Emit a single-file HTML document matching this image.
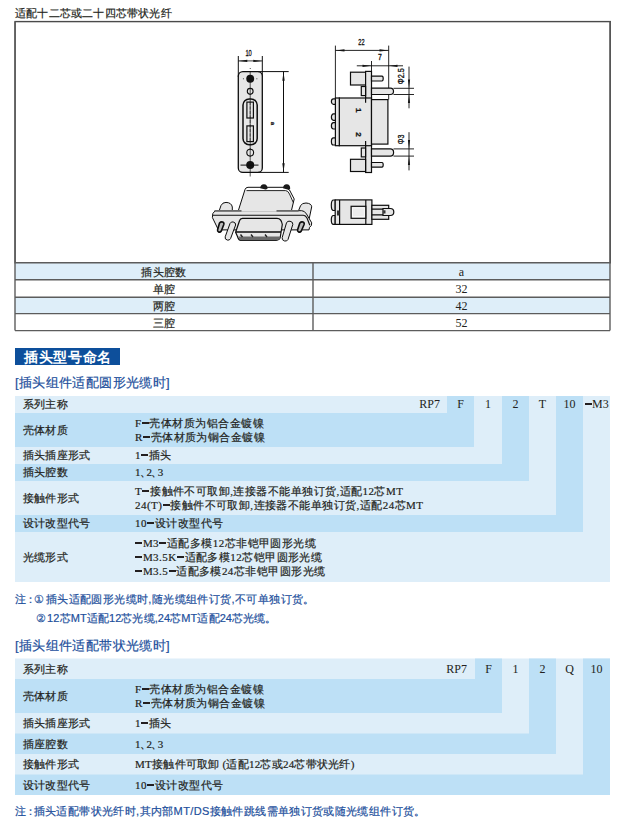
<!DOCTYPE html>
<html><head><meta charset="utf-8">
<style>
*{margin:0;padding:0;box-sizing:border-box}
html,body{width:628px;height:826px;background:#fff;overflow:hidden}
body{position:relative;font-family:"Liberation Serif",serif;color:#231f20}
.a{position:absolute;white-space:nowrap}
.t{font-size:11px;line-height:14px;letter-spacing:0.45px}
.blue b,.t b{font-weight:bold}
.dn{margin-right:-5px;margin-left:-1px}
.ds{display:inline-block;width:7px;height:1.4px;background:#231f20;vertical-align:3.2px;margin:0 0.6px 0 0.3px}
.lb{letter-spacing:0.2px}
.blue{-webkit-text-stroke:0.2px currentColor}
.t{-webkit-text-stroke:0.2px currentColor}
.n{font-size:12px;line-height:14px}
.blue{color:#1d4f9c;letter-spacing:0.37px;font-family:"Liberation Sans",sans-serif}
.c{text-align:center}
</style></head><body>
<div class="a t" style="left:15px;top:5.5px;letter-spacing:0.2px">适配十二芯或二十四芯带状光纤</div>

<svg class="a" style="left:0;top:0" width="628" height="826" viewBox="0 0 628 826">
 <!-- drawing box + table 0 -->
 <rect x="15.1" y="21.6" width="595.2" height="241.2" fill="none" stroke="#4a4a4a" stroke-width="1.4"/>
 <rect x="15" y="262.8" width="595" height="17" fill="#deeef9"/>
 <rect x="15" y="297.2" width="595" height="16.4" fill="#deeef9"/>
 <g stroke="#5c5c5c" stroke-width="1.4" fill="none">
  <line x1="15" y1="262.8" x2="610" y2="262.8"/>
  <line x1="15" y1="279.7" x2="610" y2="279.7"/>
  <line x1="15" y1="297.2" x2="610" y2="297.2"/>
  <line x1="15" y1="313.6" x2="610" y2="313.6"/>
  <line x1="15" y1="330.6" x2="610" y2="330.6"/>
  <line x1="15" y1="21.5" x2="15" y2="330.6"/>
  <line x1="610" y1="21.5" x2="610" y2="330.6"/>
  <line x1="313" y1="262.8" x2="313" y2="330.6"/>
 </g>
 <!-- ===== drawing ===== -->
 <g id="front" stroke="#0d0d0d" fill="none" stroke-linecap="butt">
  <line x1="238.3" y1="56" x2="238.3" y2="77" stroke-width="1"/>
  <line x1="262.3" y1="56" x2="262.3" y2="77" stroke-width="1"/>
  <line x1="238.3" y1="60.9" x2="262.3" y2="60.9" stroke-width="0.8"/>
  <path d="M238.5 60.9 L247.3 59.8 L247.3 62 Z M262.1 60.9 L253.3 59.8 L253.3 62 Z" fill="#151515" stroke="none"/>
  <rect x="238.3" y="71.6" width="24" height="100.8" rx="4.5" fill="#e6e6e6" stroke-width="1.3"/>
  <line x1="258" y1="71.6" x2="288.7" y2="71.6" stroke-width="1"/>
  <line x1="258" y1="172.4" x2="288.7" y2="172.4" stroke-width="1"/>
  <line x1="283.5" y1="71.6" x2="283.5" y2="172.4" stroke-width="1"/>
  <path d="M283.5 72 L282.3 80.8 L284.7 80.8 Z M283.5 172 L282.3 163.2 L284.7 163.2 Z" fill="#151515" stroke="none"/>
  <line x1="250.2" y1="71" x2="250.2" y2="176.5" stroke-width="0.7"/>
  <circle cx="250.2" cy="68.5" r="0.5" fill="#151515" stroke="none"/>
  <circle cx="243.4" cy="78.8" r="0.5" fill="#151515" stroke="none"/>
  <circle cx="256.9" cy="78.8" r="0.5" fill="#151515" stroke="none"/>
  <circle cx="250.2" cy="78.8" r="3.95" fill="#111" stroke="none"/>
  <circle cx="250.2" cy="91.3" r="2.9" fill="#e6e6e6" stroke-width="1.1"/>
  <line x1="250.2" y1="88" x2="250.2" y2="95" stroke-width="0.7"/>
  <rect x="243" y="98.9" width="14.2" height="45.8" rx="6.2" stroke-width="1.5"/>
  <rect x="246.9" y="102.1" width="6.5" height="15.9" stroke-width="1.2"/>
  <rect x="246.9" y="125.9" width="6.5" height="15.7" stroke-width="1.2"/>
  <line x1="250.2" y1="102" x2="250.2" y2="141.6" stroke-width="0.5" stroke-dasharray="3 1.5"/>
  <circle cx="250.2" cy="152.6" r="3.4" fill="#e6e6e6" stroke-width="1.1"/>
  <line x1="250.2" y1="148" x2="250.2" y2="157" stroke-width="0.7"/>
  <circle cx="250.2" cy="165.1" r="4" fill="#111" stroke="none"/>
  <line x1="240.5" y1="165.1" x2="258.5" y2="165.1" stroke-width="1"/>
 </g>
 <g id="side" stroke="#0d0d0d" fill="#e6e6e6" stroke-width="1.2">
  <g fill="none" stroke-width="0.9">
   <line x1="335.4" y1="45.6" x2="335.4" y2="98"/>
   <line x1="388.7" y1="45.6" x2="388.7" y2="99.6"/>
   <line x1="335.4" y1="50.4" x2="388.7" y2="50.4"/>
   <line x1="371.5" y1="61" x2="371.5" y2="71.4"/>
   <line x1="356.8" y1="65.8" x2="403" y2="65.8"/>
   <line x1="393.5" y1="88.3" x2="414" y2="88.3"/>
   <line x1="393.5" y1="94.5" x2="414" y2="94.5"/>
   <line x1="393.5" y1="148.9" x2="414" y2="148.9"/>
   <line x1="393.5" y1="156.1" x2="414" y2="156.1"/>
   <line x1="409" y1="66.6" x2="409" y2="108.3"/>
   <line x1="409" y1="132.2" x2="409" y2="170.4"/>
  </g>
  <path d="M335.6 50.4 L344.5 49.3 L344.5 51.5 Z M388.5 50.4 L379.5 49.3 L379.5 51.5 Z M371.3 65.8 L362.5 64.7 L362.5 66.9 Z M388.9 65.8 L397.5 64.7 L397.5 66.9 Z M409 88.1 L407.9 79.5 L410.1 79.5 Z M409 94.7 L407.9 103 L410.1 103 Z M409 148.7 L407.9 140 L410.1 140 Z M409 156.3 L407.9 165 L410.1 165 Z" fill="#151515" stroke="none"/>
  <rect x="350.5" y="72.2" width="15.1" height="12.8"/>
  <rect x="365.6" y="71.4" width="5.9" height="101.1"/>
  <path d="M371.5 76.2 H382 Q383.2 76.2 383.2 78.6 Q383.2 81 382 81 H371.5 Z"/>
  <rect x="361.3" y="86.5" width="4.3" height="9.1"/>
  <path d="M371.5 88.1 H390.5 A3 3.2 0 0 1 390.5 94.5 H371.5 Z"/>
  <rect x="339.3" y="98" width="32.2" height="47.7"/>
  <path d="M365.6 97 V102.7 M365.6 141 V146.5" fill="none"/>
  <rect x="371.5" y="99.6" width="16.4" height="44.5"/>
  <rect x="335.4" y="98" width="3.9" height="47.7"/>
  <path d="M335.4 98.8 H333.5 A2.1 2.75 0 0 0 333.5 104.3 H335.4 Z"/>
  <path d="M335.4 113.9 H333.5 A2.1 3.2 0 0 0 333.5 120.3 H335.4 Z"/>
  <path d="M335.4 122.6 H333.5 A2.1 3.2 0 0 0 333.5 129 H335.4 Z"/>
  <path d="M335.4 137.8 H333.5 A2.1 3.6 0 0 0 333.5 145 H335.4 Z"/>
  <rect x="361.3" y="148" width="4.3" height="8.9"/>
  <path d="M371.5 148.9 H390.3 A3.3 3.6 0 0 1 390.3 156.1 H371.5 Z"/>
  <rect x="350.5" y="159.3" width="15.1" height="12.2"/>
  <path d="M371.5 162.5 H382 Q383.2 162.5 383.2 164.85 Q383.2 167.2 382 167.2 H371.5 Z"/>
 </g>
 <g id="top" stroke="#0d0d0d" fill="#e6e6e6" stroke-width="1.2">
  <path d="M335.2 200 H333.5 A2.2 5.25 0 0 0 333.5 210.5 H335.2 Z"/>
  <path d="M335.2 215.5 H333.5 A2.2 4.45 0 0 0 333.5 224.4 H335.2 Z"/>
  <rect x="335.2" y="199.9" width="36.7" height="24.5"/>
  <line x1="339.6" y1="199.9" x2="339.6" y2="224.4"/>
  <rect x="337" y="210.5" width="2.6" height="5" fill="#333" stroke="none"/>
  <line x1="365.8" y1="199.9" x2="365.8" y2="224.4"/>
  <rect x="351.1" y="206.3" width="14.7" height="12" fill="#d8d8d8"/>
  <rect x="352.6" y="207.8" width="11.7" height="9" fill="#ececec" stroke="#fff" stroke-width="0.9"/>
  <rect x="371.9" y="205.3" width="16.8" height="14"/>
  <path d="M371.9 209.1 H388.7 M371.9 214.8 H388.7" fill="none"/>
  <path d="M383 208.5 H390.3 A3.5 3.5 0 0 1 390.3 215.5 H383 Z"/>
  <rect x="383.3" y="210.3" width="2.2" height="3.2" fill="#333" stroke="none"/>
 </g>
 <g id="iso" stroke="#0d0d0d" fill="#e6e6e6" stroke-width="1" stroke-linejoin="round">
  <!-- back cylinders -->
  <path d="M219.1 211 L221 205.5 Q222.5 202.3 226 202.4 Q231.5 202.6 232.3 207 V211 Z"/>
  <path d="M298.4 211 L300.5 205.8 Q302 202.8 306 203 Q311.5 203.4 311.7 206.8 L309.2 218.7 L302 213 Z"/>
  <!-- flange -->
  <path d="M215.2 210.7 H301.7 Q304.5 210.7 306.5 214 L311.7 222.8 Q312 226 309.5 227.4 L309 229.9 H218.4 L212.4 217.5 Q211.8 213 215.2 210.7 Z"/>
  <path d="M212.8 215.2 H303.4 Q305.5 215.2 307 218 L309.8 225.3" fill="none" stroke-width="1.1"/>
  <!-- top body -->
  <path d="M238.3 211.3 L245 189.5 Q245.8 187.3 248 187.3 H284.7 Q287.5 187.3 289.5 190 L294.2 199 L291.4 211.3 Z" stroke="none"/>
  <path d="M246 189 Q246.5 187.3 248 187.3 H284.7 Q287.5 187.3 289.5 190 L294.2 199 L293.2 203 L289.5 194 Q288 190.6 285.6 190.6 H246.5 Z" fill="#fff" stroke="none"/>
  <path d="M238.3 210.7 L245 189.5 Q245.8 187.3 248 187.3 H284.7 Q287.5 187.3 289.5 190 L294.2 199 L291.4 210.7" fill="none"/>
  <path d="M246.5 190.6 H285.6 Q288 190.6 289.5 194 L293.3 202.5" fill="none" stroke-width="0.9"/>
  <path d="M260.2 188.2 Q260.5 184.2 264 184.3 Q267.5 184.5 267.6 188.6 Q266 190 264.5 189.2 Z" fill="#1a1a1a" stroke="none"/>
  <path d="M283 188.2 Q283.3 184.2 286.8 184.3 Q290.3 184.5 290.2 188.8 Q289 190.6 287.5 189.5 Z" fill="#1a1a1a" stroke="none"/>
  <path d="M214.5 210.9 H241.5 M276.5 210.9 H298.6" fill="none" stroke="#6a6a6a" stroke-width="1.7"/>
  <!-- D plug -->
  <path d="M242.5 218.4 H277 Q281.5 218.4 282.3 224.5 L280.3 237 Q279.8 240.3 276 240.3 H241 Q238.5 240.3 237.5 236.5 L235.6 232.2 L239.6 220.5 Q240.2 218.4 242.5 218.4 Z" stroke-width="1.2"/>
  <path d="M238.3 236.6 H280.2 L279.8 238.5 Q279.3 240.3 276 240.3 H241 Q239.3 240.3 238.3 236.6 Z" fill="#6a6a6a" stroke="none"/>
  <line x1="236" y1="232" x2="281" y2="232" stroke-width="1.5"/>
  <path d="M240.5 234.5 L242.5 237 M251 234.5 L253 237 M265 234.5 L267 237" stroke="#222" stroke-width="1.4" fill="none"/>
  <!-- pins -->
  <path d="M230 223.5 Q231 221.6 233.1 221.9 Q236 222.6 235.6 225 L230.6 238.5 Q229.6 240.6 227.4 240.1 Q224.5 239.4 225.2 236.8 Z"/>
  <path d="M286.6 222.5 Q287.8 220.9 290 221.2 Q293.3 221.9 292.8 224.5 L288 239.5 Q287 241.5 284.6 241 Q281.5 240.2 282.2 237.5 Z"/>
  <!-- screws -->
  <path d="M219.5 223 Q220.8 221.6 222.6 222 Q224.3 222.7 223.8 224.5 L221.3 231 Q220.3 232.6 218.6 232 Q217.2 231.3 217.6 229.8 Z" fill="#bbb" stroke-width="1.6"/>
  <path d="M299.8 223 Q301.1 221.6 302.9 222 Q304.6 222.7 304.1 224.5 L301.3 231 Q300.3 232.6 298.6 232 Q297.2 231.3 297.6 229.8 Z" fill="#bbb" stroke-width="1.6"/>
 </g>
 <g font-family="Liberation Sans, sans-serif" font-size="8.5" fill="#111" stroke="#111" stroke-width="0.3">
  <text x="248.6" y="55.9" text-anchor="middle" textLength="6.4" lengthAdjust="spacingAndGlyphs">10</text>
  <text transform="translate(271,123.3) rotate(90)" text-anchor="middle" font-size="6" font-weight="normal">a</text>
  <text x="361.4" y="45" text-anchor="middle" textLength="6.2" lengthAdjust="spacingAndGlyphs">22</text>
  <text x="380" y="59.9" text-anchor="middle" textLength="3.8" lengthAdjust="spacingAndGlyphs">7</text>
  <text transform="translate(404,76.2) rotate(-90)" text-anchor="middle" textLength="16" lengthAdjust="spacingAndGlyphs">Φ2.5</text>
  <text transform="translate(404,139.4) rotate(-90)" text-anchor="middle" textLength="9.5" lengthAdjust="spacingAndGlyphs">Φ3</text>
  <text transform="translate(355.6,110.3) rotate(90)" text-anchor="middle" font-size="8" font-weight="bold" textLength="5">1</text>
  <text transform="translate(355.6,134.5) rotate(90)" text-anchor="middle" font-size="8" font-weight="bold" textLength="5.2">2</text>
 </g>
 <!-- section header -->
 <rect x="15" y="348" width="105" height="17" fill="#0d4f9b"/>
 <!-- table 1 -->
 <rect x="15" y="396" width="595" height="186" fill="#deeef9"/>
 <g fill="#bde0f6">
  <rect x="447" y="396" width="27" height="51"/><rect x="15" y="413" width="459" height="34"/>
  <rect x="502" y="396" width="27" height="85"/><rect x="15" y="464" width="514" height="17"/>
  <rect x="556" y="396" width="27" height="136"/><rect x="15" y="515" width="568" height="17"/>
 </g>
 <!-- table 2 -->
 <rect x="15" y="658.5" width="595" height="136.5" fill="#deeef9"/>
 <g fill="#bde0f6">
  <rect x="475" y="658.5" width="27" height="54.5"/><rect x="15" y="679" width="487" height="34"/>
  <rect x="529" y="658.5" width="27" height="95.5"/><rect x="15" y="733.5" width="541" height="20.5"/>
  <rect x="583" y="658.5" width="27" height="136.5"/><rect x="15" y="774.5" width="595" height="20.5"/>
 </g>
</svg>

<!-- table 0 text -->
<div class="a t c" style="left:15px;width:298px;top:264.5px">插头腔数</div>
<div class="a n c" style="left:313px;width:297px;top:264.5px">a</div>
<div class="a t c" style="left:15px;width:298px;top:281.5px">单腔</div>
<div class="a n c" style="left:313px;width:297px;top:281.5px">32</div>
<div class="a t c" style="left:15px;width:298px;top:298.5px">两腔</div>
<div class="a n c" style="left:313px;width:297px;top:298.5px">42</div>
<div class="a t c" style="left:15px;width:298px;top:315.5px">三腔</div>
<div class="a n c" style="left:313px;width:297px;top:315.5px">52</div>

<div class="a" style="left:15px;top:348px;width:105px;height:17px;line-height:19px;color:#fff;font-family:'Liberation Sans',sans-serif;font-weight:bold;font-size:14px;text-align:center;letter-spacing:0.7px;text-indent:0.9px">插头型号命名</div>
<div class="a blue" style="left:15px;top:375px;font-size:13px;line-height:16px">[插头组件适配圆形光缆时]</div>

<!-- table 1 text -->
<div class="a t lb" style="left:23px;top:397px">系列主称</div>
<div class="a n" style="left:395px;width:45px;text-align:right;top:397px">RP7</div>
<div class="a n c" style="left:447px;width:27px;top:397px">F</div>
<div class="a n c" style="left:474px;width:28px;top:397px">1</div>
<div class="a n c" style="left:502px;width:27px;top:397px">2</div>
<div class="a n c" style="left:529px;width:27px;top:397px">T</div>
<div class="a n c" style="left:556px;width:27px;top:397px">10</div>
<div class="a n c" style="left:583px;width:27px;top:397px"><i class="ds"></i>M3</div>

<div class="a t lb" style="left:23px;top:423px">壳体材质</div>
<div class="a t" style="left:135px;top:416px">F<i class="ds"></i>壳体材质为铝合金镀镍<br>R<i class="ds"></i>壳体材质为铜合金镀镍</div>
<div class="a t lb" style="left:23px;top:448px">插头插座形式</div>
<div class="a t" style="left:135px;top:448px">1<i class="ds"></i>插头</div>
<div class="a t lb" style="left:23px;top:465px">插头腔数</div>
<div class="a t" style="left:135px;top:465px">1<span class="dn">、</span>2<span class="dn">、</span>3</div>
<div class="a t lb" style="left:23px;top:491px">接触件形式</div>
<div class="a t" style="left:135px;top:484px">T<i class="ds"></i>接触件不可取卸,连接器不能单独订货,适配12芯MT<br>24(T)<i class="ds"></i>接触件不可取卸,连接器不能单独订货,适配24芯MT</div>
<div class="a t lb" style="left:23px;top:516px">设计改型代号</div>
<div class="a t" style="left:135px;top:516px">10<i class="ds"></i>设计改型代号</div>
<div class="a t lb" style="left:23px;top:550px">光缆形式</div>
<div class="a t" style="left:135px;top:536px"><i class="ds"></i>M3<i class="ds"></i>适配多模12芯非铠甲圆形光缆<br><i class="ds"></i>M3.5K<i class="ds"></i>适配多模12芯铠甲圆形光缆<br><i class="ds"></i>M3.5<i class="ds"></i>适配多模24芯非铠甲圆形光缆</div>

<div class="a blue" style="left:15px;top:592px;font-size:11px;line-height:14px;letter-spacing:0.4px">注<span style="margin-right:-3px;margin-left:-1px">：</span><span style="margin-left:0.5px;margin-right:1px">①</span>插头适配圆形光缆时,随光缆组件订货,不可单独订货。</div>
<div class="a blue" style="left:36px;top:611px;font-size:11px;line-height:14px;letter-spacing:0.1px"><span style="margin-right:1px">②</span>12芯MT适配12芯光缆,24芯MT适配24芯光缆。</div>
<div class="a blue" style="left:15px;top:637.5px;font-size:13px;line-height:16px">[插头组件适配带状光缆时]</div>

<!-- table 2 text -->
<div class="a t lb" style="left:23px;top:662px">系列主称</div>
<div class="a n" style="left:422px;width:45px;text-align:right;top:662px">RP7</div>
<div class="a n c" style="left:475px;width:27px;top:662px">F</div>
<div class="a n c" style="left:502px;width:27px;top:662px">1</div>
<div class="a n c" style="left:529px;width:27px;top:662px">2</div>
<div class="a n c" style="left:556px;width:27px;top:662px">Q</div>
<div class="a n c" style="left:583px;width:27px;top:662px">10</div>
<div class="a t lb" style="left:23px;top:689px">壳体材质</div>
<div class="a t" style="left:135px;top:682px">F<i class="ds"></i>壳体材质为铝合金镀镍<br>R<i class="ds"></i>壳体材质为铜合金镀镍</div>
<div class="a t lb" style="left:23px;top:716px">插头插座形式</div>
<div class="a t" style="left:135px;top:716px">1<i class="ds"></i>插头</div>
<div class="a t lb" style="left:23px;top:737px">插座腔数</div>
<div class="a t" style="left:135px;top:737px">1<span class="dn">、</span>2<span class="dn">、</span>3</div>
<div class="a t lb" style="left:23px;top:757px">接触件形式</div>
<div class="a t" style="left:135px;top:757px;letter-spacing:0.25px">MT接触件可取卸 (适配12芯或24芯带状光纤)</div>
<div class="a t lb" style="left:23px;top:778px">设计改型代号</div>
<div class="a t" style="left:135px;top:778px">10<i class="ds"></i>设计改型代号</div>
<div class="a blue" style="left:15px;top:804px;font-size:11px;line-height:14px">注<span style="margin-right:-3px;margin-left:-1px">：</span>插头适配带状光纤时,其内部MT/DS接触件跳线需单独订货或随光缆组件订货。</div>
</body></html>
